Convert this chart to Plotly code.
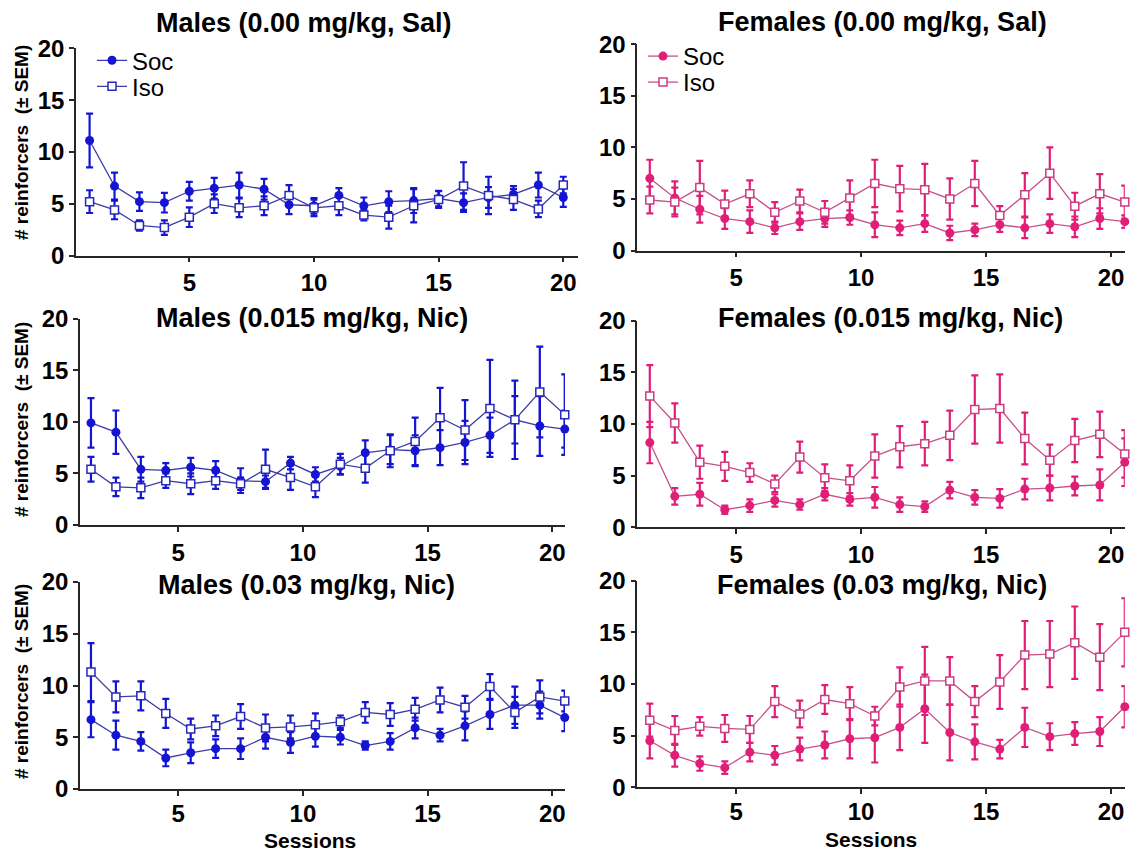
import plotly.graph_objects as go

W, H = 1131, 852

sessions = list(range(1, 21))
x_tick_vals = [5, 10, 15, 20]
x_tick_text = ["5", "10", "15", "20"]
y_tick_vals = [0, 5, 10, 15, 20]
y_tick_text = ["0", "5", "10", "15", "20"]

panel_titles = ["Males (0.00 mg/kg, Sal)", "Females (0.00 mg/kg, Sal)",
                "Males (0.015 mg/kg, Nic)", "Females (0.015 mg/kg, Nic)",
                "Males (0.03 mg/kg, Nic)", "Females (0.03 mg/kg, Nic)"]
group_names = ["Soc", "Iso"]
y_title = "# reinforcers  (\u00b1 SEM)"
x_title = "Sessions"

# ---- data (mean and SEM per session) ----
m_sal_soc = [11.1, 6.7, 5.2, 5.1, 6.2, 6.5, 6.8, 6.4, 4.9, 4.8, 5.8, 4.8, 5.2, 5.3, 5.5, 5.1, 5.6, 5.9, 6.8, 5.6]
m_sal_soc_sem = [2.6, 1.3, 0.9, 0.95, 0.9, 1.0, 1.2, 1.0, 0.9, 0.75, 0.7, 0.8, 1.0, 1.2, 0.75, 0.9, 1.0, 0.8, 1.2, 0.9]
m_sal_iso = [5.2, 4.4, 2.9, 2.7, 3.7, 5.0, 4.6, 4.8, 5.8, 4.6, 4.8, 3.9, 3.7, 4.8, 5.4, 6.7, 5.8, 5.4, 4.5, 6.8]
m_sal_iso_sem = [1.1, 0.9, 0.5, 0.7, 0.95, 0.9, 0.9, 0.9, 1.0, 0.8, 0.9, 0.5, 1.1, 1.6, 0.8, 2.3, 1.8, 1.0, 0.8, 0.8]

f_sal_soc = [7.0, 5.1, 4.0, 3.1, 2.8, 2.2, 2.8, 3.1, 3.2, 2.5, 2.2, 2.6, 1.7, 2.0, 2.5, 2.2, 2.6, 2.3, 3.1, 2.8]
f_sal_soc_sem = [1.8, 1.6, 1.3, 1.0, 1.1, 0.6, 0.8, 0.8, 0.7, 1.2, 0.7, 0.8, 0.7, 0.6, 0.7, 1.0, 0.9, 1.0, 1.0, 0.6]
f_sal_iso = [4.9, 4.7, 6.1, 4.5, 5.5, 3.7, 4.8, 3.7, 5.1, 6.5, 6.0, 5.9, 5.0, 6.5, 3.4, 5.4, 7.5, 4.3, 5.5, 4.7]
f_sal_iso_sem = [1.3, 1.4, 2.6, 1.3, 1.3, 1.0, 1.1, 1.1, 1.7, 2.3, 2.2, 2.5, 2.0, 2.2, 0.9, 2.1, 2.5, 1.3, 1.9, 1.6]

m_015_soc = [9.9, 9.0, 5.4, 5.3, 5.6, 5.3, 4.3, 4.2, 6.0, 4.9, 5.7, 7.0, 7.3, 7.2, 7.5, 8.0, 8.7, 10.2, 9.6, 9.3]
m_015_soc_sem = [2.4, 2.1, 1.2, 0.7, 0.9, 0.9, 1.2, 0.6, 0.6, 0.7, 0.8, 1.2, 1.4, 1.5, 1.7, 2.1, 1.7, 3.8, 2.9, 1.8]
m_015_iso = [5.4, 3.7, 3.6, 4.3, 4.0, 4.3, 4.0, 5.4, 4.6, 3.7, 5.9, 5.5, 7.2, 8.1, 10.4, 9.2, 11.3, 10.2, 12.9, 10.7]
m_015_iso_sem = [1.2, 0.9, 1.0, 0.7, 1.0, 0.8, 0.6, 1.9, 1.2, 1.0, 1.0, 1.4, 1.6, 2.3, 2.9, 2.9, 4.7, 2.3, 4.4, 3.9]

f_015_soc = [8.2, 3.0, 3.2, 1.7, 2.1, 2.6, 2.2, 3.2, 2.7, 2.9, 2.2, 2.0, 3.6, 2.9, 2.8, 3.7, 3.8, 4.0, 4.1, 6.3]
f_015_soc_sem = [2.0, 0.8, 1.1, 0.4, 0.6, 0.6, 0.5, 0.6, 0.6, 1.0, 0.7, 0.5, 0.8, 0.7, 0.9, 1.0, 1.2, 0.9, 1.5, 2.3]
f_015_iso = [12.7, 10.1, 6.3, 5.9, 5.3, 4.2, 6.8, 4.8, 4.5, 6.9, 7.8, 8.1, 8.9, 11.4, 11.5, 8.6, 6.5, 8.4, 9.0, 7.1]
f_015_iso_sem = [3.0, 1.9, 1.6, 1.4, 0.9, 0.8, 1.5, 1.3, 1.5, 2.1, 2.0, 2.1, 2.4, 3.3, 3.3, 2.5, 1.5, 2.1, 2.2, 2.3]

m_03_soc = [6.7, 5.2, 4.6, 3.0, 3.5, 3.9, 3.9, 5.0, 4.5, 5.1, 5.0, 4.2, 4.6, 5.9, 5.2, 6.1, 7.2, 8.1, 8.1, 6.9]
m_03_soc_sem = [1.7, 1.4, 0.9, 0.8, 1.0, 0.9, 1.0, 1.1, 1.0, 1.0, 0.7, 0.4, 0.8, 1.0, 0.6, 1.4, 1.4, 1.8, 1.3, 1.3]
m_03_iso = [11.3, 8.9, 9.0, 7.3, 5.8, 6.1, 7.0, 5.9, 6.0, 6.2, 6.5, 7.4, 7.2, 7.7, 8.6, 7.9, 9.9, 7.4, 8.9, 8.5]
m_03_iso_sem = [2.8, 1.5, 1.4, 1.4, 1.0, 1.0, 1.2, 1.3, 1.1, 1.1, 0.6, 1.0, 1.1, 1.1, 1.2, 1.1, 1.2, 1.5, 1.6, 1.0]

f_03_soc = [4.5, 3.1, 2.3, 1.9, 3.4, 3.1, 3.7, 4.1, 4.7, 4.8, 5.8, 7.6, 5.3, 4.4, 3.7, 5.8, 4.9, 5.2, 5.4, 7.8]
f_03_soc_sem = [1.7, 1.1, 0.7, 0.6, 0.9, 0.9, 1.1, 1.3, 1.9, 2.4, 2.2, 3.3, 2.7, 1.7, 0.9, 1.9, 1.3, 1.1, 1.4, 2.0]
f_03_iso = [6.5, 5.5, 5.9, 5.7, 5.6, 8.3, 7.1, 8.5, 8.1, 6.9, 9.7, 10.3, 10.3, 8.3, 10.2, 12.8, 12.9, 14.0, 12.6, 15.0]
f_03_iso_sem = [1.6, 1.4, 0.9, 1.3, 1.3, 1.5, 1.3, 1.4, 1.6, 0.9, 1.9, 3.3, 2.3, 1.5, 2.6, 3.3, 3.2, 3.5, 3.2, 3.3]

# ---- styling / layout (pixels) ----
FONT = "Arial, 'Liberation Sans', sans-serif"
MALE = dict(mark="#1414d2", line="#3c3ca8", iso="#2828bc")
FEMALE = dict(mark="#e01e78", line="#c8508a", iso="#cc3c82")

# panel boxes: (x0, x1, y_top, y_bottom) in pixels, x range, x shift of points
panels = [
    dict(box=(76, 578, 48.3, 255.5), xr=[0.455, 20.59], shift=0.0, pal=MALE,
         soc=m_sal_soc, soc_sem=m_sal_soc_sem, iso=m_sal_iso, iso_sem=m_sal_iso_sem),
    dict(box=(637.3, 1124.8, 44.3, 250.5), xr=[1.05, 20.55], shift=0.55, pal=FEMALE,
         soc=f_sal_soc, soc_sem=f_sal_soc_sem, iso=f_sal_iso, iso_sem=f_sal_iso_sem),
    dict(box=(80, 565, 318.7, 525), xr=[1.06, 20.51], shift=0.5, pal=MALE,
         soc=m_015_soc, soc_sem=m_015_soc_sem, iso=m_015_iso, iso_sem=m_015_iso_sem),
    dict(box=(637.3, 1124.8, 320.7, 527.3), xr=[1.05, 20.55], shift=0.55, pal=FEMALE,
         soc=f_015_soc, soc_sem=f_015_soc_sem, iso=f_015_iso, iso_sem=f_015_iso_sem),
    dict(box=(80, 565, 582, 789), xr=[1.06, 20.51], shift=0.5, pal=MALE,
         soc=m_03_soc, soc_sem=m_03_soc_sem, iso=m_03_iso, iso_sem=m_03_iso_sem),
    dict(box=(637.3, 1124.8, 580.7, 787.3), xr=[1.05, 20.55], shift=0.55, pal=FEMALE,
         soc=f_03_soc, soc_sem=f_03_soc_sem, iso=f_03_iso, iso_sem=f_03_iso_sem),
]
title_pos = [(304, 23), (882, 22), (312, 318), (890, 318), (306, 585), (882, 585)]
ytitle_pos = [(21, 143), (21, 420), (21, 682)]
xtitle_pos = [(310, 840), (871, 839.5)]
legend_pos = {  # legend name -> (marker center x, center y)
    "legend": (113, 60.7), "legend2": (113, 86.7),
    "legend3": (664, 56.5), "legend4": (664, 82.5),
}


def px(x):
    return x / W


def py(y):
    return 1 - y / H


fig = go.Figure()
layout = dict(template="none", width=W, height=H, autosize=False,
              margin=dict(l=0, r=0, t=0, b=0, pad=0, autoexpand=False),
              paper_bgcolor="white", plot_bgcolor="white", showlegend=True,
              font=dict(family=FONT, color="black"))

annotations = []
for i, p in enumerate(panels):
    n = i + 1
    xa = "x" if n == 1 else f"x{n}"
    ya = "y" if n == 1 else f"y{n}"
    x0, x1, yt, yb = p["box"]
    axis_common = dict(showline=True, linecolor="#262626", linewidth=1.6, automargin=False,
                       ticks="outside", ticklen=5, tickwidth=1.6, tickcolor="#262626",
                       showgrid=False, zeroline=False, fixedrange=True,
                       tickfont=dict(family=FONT, size=24, color="black", weight="bold"))
    layout["xaxis" if n == 1 else f"xaxis{n}"] = dict(
        domain=[px(x0), px(x1)], range=p["xr"], anchor=ya,
        tickvals=x_tick_vals, ticktext=x_tick_text,
        ticklabelstandoff=(-3 if i >= 4 else 0), **axis_common)
    layout["yaxis" if n == 1 else f"yaxis{n}"] = dict(
        domain=[py(yb), py(yt)], range=[0, 20], anchor=xa,
        tickvals=y_tick_vals, ticktext=y_tick_text, **axis_common)

    xs = [s + p["shift"] for s in sessions]
    pal = p["pal"]
    leg_soc = {0: "legend", 1: "legend3"}.get(i)
    leg_iso = {0: "legend2", 1: "legend4"}.get(i)
    fig.add_trace(go.Scatter(
        x=xs, y=p["soc"], xaxis=xa, yaxis=ya, mode="lines+markers", name=group_names[0],
        line=dict(color=pal["line"], width=1.3),
        marker=dict(symbol="circle", size=9, color=pal["mark"], line=dict(width=0)),
        error_y=dict(type="data", array=p["soc_sem"], color=pal["mark"], thickness=2.2, width=3.5),
        cliponaxis=False, showlegend=leg_soc is not None,
        legend=leg_soc if leg_soc else "legend"))
    fig.add_trace(go.Scatter(
        x=xs, y=p["iso"], xaxis=xa, yaxis=ya, mode="lines+markers", name=group_names[1],
        line=dict(color=pal["line"], width=1.3),
        marker=dict(symbol="square", size=8, color="white", line=dict(width=1.5, color=pal["iso"])),
        error_y=dict(type="data", array=p["iso_sem"], color=pal["mark"], thickness=2.2, width=3.5),
        cliponaxis=False, showlegend=leg_iso is not None,
        legend=leg_iso if leg_iso else "legend"))

    tx, ty = title_pos[i]
    annotations.append(dict(text=panel_titles[i], x=px(tx), y=py(ty), xref="paper", yref="paper",
                            xanchor="center", yanchor="middle", showarrow=False,
                            font=dict(family=FONT, size=27, color="black", weight="bold")))

for (tx, ty) in ytitle_pos:
    annotations.append(dict(text=y_title, x=px(tx), y=py(ty), xref="paper", yref="paper",
                            xanchor="center", yanchor="middle", showarrow=False, textangle=-90,
                            font=dict(family=FONT, size=19, color="black", weight="bold")))
for (tx, ty) in xtitle_pos:
    annotations.append(dict(text=x_title, x=px(tx), y=py(ty), xref="paper", yref="paper",
                            xanchor="center", yanchor="middle", showarrow=False,
                            font=dict(family=FONT, size=21, color="black", weight="bold")))

for name, (mx, my) in legend_pos.items():
    layout[name] = dict(x=px(mx - 21), y=py(my), xanchor="left", yanchor="middle",
                        bgcolor="rgba(0,0,0,0)", borderwidth=0, itemwidth=30,
                        font=dict(family=FONT, size=24, color="black"),
                        tracegroupgap=0, itemclick=False, itemdoubleclick=False)

layout["annotations"] = annotations
fig.update_layout(**layout)
fig.write_html(
    "out.html",
    config=dict(displayModeBar=False, responsive=False),
    post_script="document.body.style.margin='0';document.body.style.overflow='hidden';",
)
